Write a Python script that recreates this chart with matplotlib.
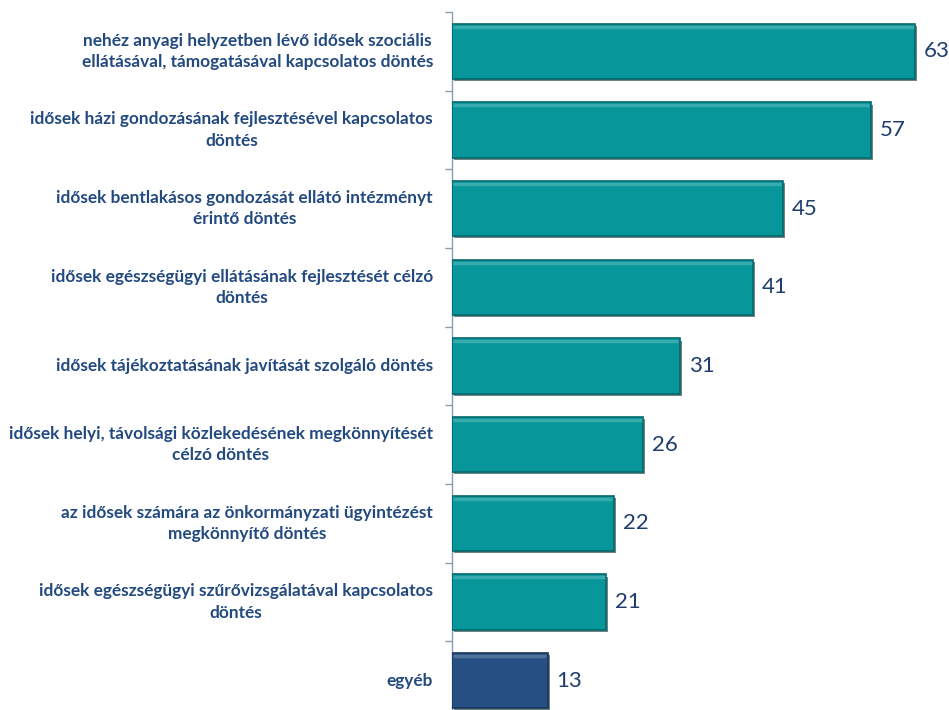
import matplotlib
matplotlib.use("Agg")
import matplotlib.pyplot as plt
import matplotlib.patheffects as pe

categories = [
    "nehéz anyagi helyzetben lévő idősek szociális\nellátásával, támogatásával kapcsolatos döntés",
    "idősek házi gondozásának fejlesztésével kapcsolatos\ndöntés",
    "idősek bentlakásos gondozását ellátó intézményt\nérintő döntés",
    "idősek egészségügyi ellátásának fejlesztését célzó\ndöntés",
    "idősek tájékoztatásának javítását szolgáló döntés",
    "idősek helyi, távolsági közlekedésének megkönnyítését\ncélzó döntés",
    "az idősek számára az önkormányzati ügyintézést\nmegkönnyítő döntés",
    "idősek egészségügyi szűrővizsgálatával kapcsolatos\ndöntés",
    "egyéb",
]
values = [63, 57, 45, 41, 31, 26, 22, 21, 13]
colors = ["#07979b"] * 8 + ["#264f83"]
edges = ["#04696c"] * 8 + ["#1a3658"]

fig = plt.figure(figsize=(9.49, 7.10), dpi=100)
ax = fig.add_axes([452 / 949, -10 / 710, 1 - 452 / 949, 1 - 2 / 710])
n = len(values)
ypos = list(range(n))
bars = ax.barh(ypos, values, height=0.70, color=colors, edgecolor=edges, linewidth=1.2,
               zorder=3)
for b in bars:
    b.set_path_effects([pe.SimplePatchShadow(offset=(1.5, -1.5), shadow_rgbFace="#123333", alpha=0.6),
                        pe.Normal()])

for i, (v, b) in enumerate(zip(values, bars)):
    x0, w, h = b.get_x(), b.get_width(), b.get_height()
    yc = b.get_y()
    ax.plot([x0 + 0.2, x0 + w - 0.2], [yc + 0.035, yc + 0.035], color="white",
            alpha=0.2, lw=2.5, zorder=4, solid_capstyle="butt")
    ax.text(v + 1.2, i, str(v), va="center", ha="left", fontsize=16,
            color="#1f3d6e", family="Lato")

ax.set_xlim(0, (949 - 452) / 7.35)
ax.set_ylim(n - 0.5, -0.5)
ax.set_yticks([i - 0.5 for i in range(n + 1)])
ax.set_yticklabels([])
ax.tick_params(axis="y", length=5, color="#8a9bb5", direction="out", width=1)
ax.set_xticks([])
for s in ["top", "right", "bottom"]:
    ax.spines[s].set_visible(False)
ax.spines["left"].set_color("#8a9bb5")
ax.spines["left"].set_linewidth(1)

for i, c in enumerate(categories):
    ax.text(-19 / 7.35, i, c, ha="right", va="center", multialignment="center",
            fontsize=12.4, fontweight="bold", color="#234a80", family="Lato",
            linespacing=1.4)

fig.savefig("out.png", dpi=100)
